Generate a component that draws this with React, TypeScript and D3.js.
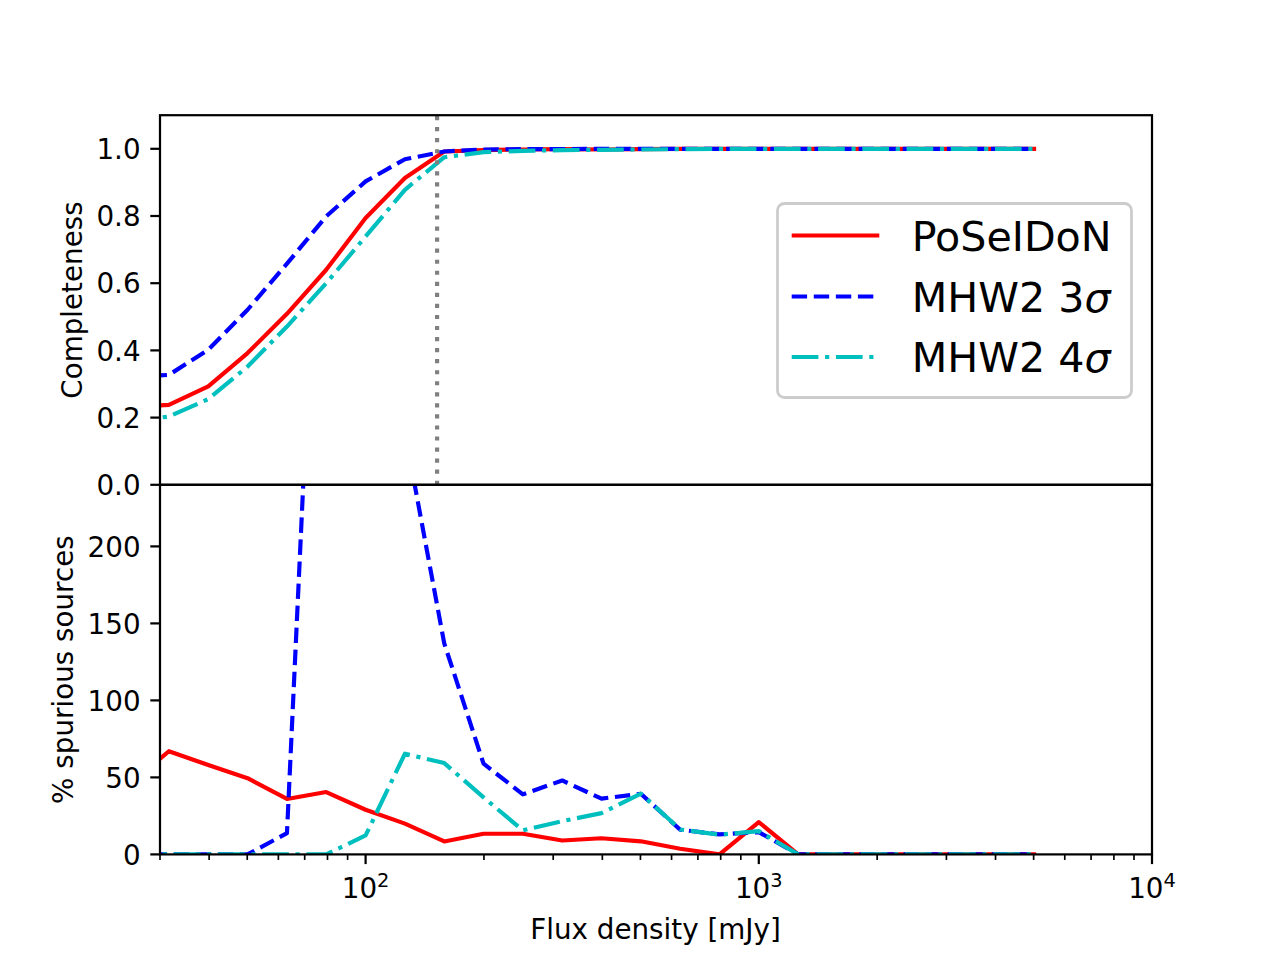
import React from "react";
import * as d3 from "d3";

// ---------- data ----------
const flux = [25.1, 31.6, 39.8, 50.1, 63.1, 79.4, 100, 125.9, 158.5, 199.5, 251.2, 316.2, 398.1, 501.2, 631.0, 794.3, 1000, 1258.9, 1584.9, 1995.3, 2511.9, 3162.3, 3981.1, 5011.9];

const complPoseidon = [0.23, 0.238, 0.293, 0.392, 0.509, 0.64, 0.794, 0.913, 0.992, 0.996, 0.998, 0.999, 0.998, 0.999, 1.0, 1.0, 1.0, 1.0, 1.0, 1.0, 1.0, 1.0, 1.0, 1.0];
const complMHW3 = [0.32, 0.327, 0.402, 0.521, 0.658, 0.799, 0.903, 0.969, 0.992, 0.998, 0.999, 0.999, 1.0, 1.0, 1.0, 1.0, 1.0, 1.0, 1.0, 1.0, 1.0, 1.0, 1.0, 1.0];
const complMHW4 = [0.19, 0.203, 0.255, 0.352, 0.471, 0.6, 0.739, 0.878, 0.975, 0.99, 0.994, 0.996, 0.997, 0.998, 0.999, 1.0, 1.0, 1.0, 1.0, 1.0, 1.0, 1.0, 1.0, 1.0];

const spurPoseidon = [45, 67, 58, 49.5, 36, 40.5, 29, 20, 8.4, 13.4, 13.4, 9, 10.5, 8.5, 3.7, 0, 21, 0, 0, 0, 0, 0, 0, 0];
const spurMHW3 = [0, 0, 0, 0, 13.8, 560, 450, 274, 137, 58.9, 39, 48, 36.2, 39.4, 16, 13, 14.5, 0, 0, 0, 0, 0, 0, 0];
const spurMHW4 = [0, 0, 0, 0, 0, 0, 12.3, 65.4, 59.3, 37, 15.6, 21.6, 26.8, 39.4, 16.2, 12.8, 15.1, 0, 0, 0, 0, 0, 0, 0];

const cutFlux = 152;

const topTicks = [0, 0.2, 0.4, 0.6, 0.8, 1.0];
const botTicks = [0, 50, 100, 150, 200];
const xMajor = [100, 1000, 10000];
const xMajorExp = ["2", "3", "4"];
const xMinor = [30, 40, 50, 60, 70, 80, 90, 200, 300, 400, 500, 600, 700, 800, 900, 2000, 3000, 4000, 5000, 6000, 7000, 8000, 9000];

const seriesNames = ["PoSeIDoN", "MHW2 3", "MHW2 4"];
const seriesColors = ["#ff0000", "#0000ff", "#00bfbf"];

// ---------- layout ----------
const W = 1280, H = 960;
const L = 160, R = 1152, T = 115.2, M = 484.8, B = 854.4;
const FS = 27.78;
const LW = 4.17;
const dashes = [null, "15.4,6.67", "26.7,6.67,4.17,6.67"];

export default function App() {
  const x = d3.scaleLog().domain([30, 10000]).range([L, R]);
  const yTop = d3.scaleLinear().domain([0, 1.1]).range([M, T]);
  const yBot = d3.scaleLinear().domain([0, 240]).range([B, M]);

  const topSeries = [complPoseidon, complMHW3, complMHW4];
  const botSeries = [spurPoseidon, spurMHW3, spurMHW4];

  const lineTop = d3.line<number>().x((_, i) => x(flux[i])).y((d) => yTop(d));
  const lineBot = d3.line<number>().x((_, i) => x(flux[i])).y((d) => yBot(d));

  const font = "DejaVu Sans, sans-serif";

  const legRows = [250.5, 311.5, 372];

  return (
    <svg width={W} height={H} style={{ display: "block", position: "absolute", left: 0, top: 0 }} fontFamily={font}>
      <defs>
        <clipPath id="clipTop"><rect x={L} y={T} width={R - L} height={M - T} /></clipPath>
        <clipPath id="clipBot"><rect x={L} y={M} width={R - L} height={B - M} /></clipPath>
      </defs>
      <rect x={0} y={0} width={W} height={H} fill="#ffffff" />

      {/* top panel lines */}
      <g clipPath="url(#clipTop)">
        {topSeries.map((s, i) => (
          <path key={i} d={lineTop(s) || ""} fill="none" stroke={seriesColors[i]} strokeWidth={LW}
            strokeDasharray={dashes[i] || undefined} strokeLinejoin="round" strokeLinecap={i === 0 ? "square" : "butt"} />
        ))}
        <line x1={x(cutFlux)} x2={x(cutFlux)} y1={yTop(0)} y2={yTop(1.1)} stroke="#808080" strokeWidth={LW}
          strokeDasharray="4.17,6.88" />
      </g>

      {/* bottom panel lines */}
      <g clipPath="url(#clipBot)">
        {botSeries.map((s, i) => (
          <path key={i} d={lineBot(s) || ""} fill="none" stroke={seriesColors[i]} strokeWidth={LW}
            strokeDasharray={dashes[i] || undefined} strokeLinejoin="round" strokeLinecap={i === 0 ? "square" : "butt"} />
        ))}
      </g>

      {/* spines */}
      <rect x={L} y={T} width={R - L} height={M - T} fill="none" stroke="#000" strokeWidth={2.22} />
      <rect x={L} y={M} width={R - L} height={B - M} fill="none" stroke="#000" strokeWidth={2.22} />

      {/* top y ticks */}
      {topTicks.map((t) => (
        <g key={"tt" + t}>
          <line x1={L - 9.7} x2={L} y1={yTop(t)} y2={yTop(t)} stroke="#000" strokeWidth={2.22} />
          <text x={L - 19.4} y={yTop(t) + 10.1} fontSize={FS} textAnchor="end" fill="#000">{t.toFixed(1)}</text>
        </g>
      ))}
      {/* bottom y ticks */}
      {botTicks.map((t) => (
        <g key={"bt" + t}>
          <line x1={L - 9.7} x2={L} y1={yBot(t)} y2={yBot(t)} stroke="#000" strokeWidth={2.22} />
          <text x={L - 19.4} y={yBot(t) + 10.1} fontSize={FS} textAnchor="end" fill="#000">{String(t)}</text>
        </g>
      ))}

      {/* x ticks bottom */}
      {xMinor.map((v) => (
        <line key={"mn" + v} x1={x(v)} x2={x(v)} y1={B} y2={B + 5.56} stroke="#000" strokeWidth={1.67} />
      ))}
      {xMajor.map((v, i) => (
        <g key={"mj" + v}>
          <line x1={x(v)} x2={x(v)} y1={B} y2={B + 9.7} stroke="#000" strokeWidth={2.22} />
          <text x={x(v)} y={897.5} fontSize={FS} textAnchor="middle" fill="#000">
            10<tspan fontSize={19.4} dy={-11}>{xMajorExp[i]}</tspan>
          </text>
        </g>
      ))}

      {/* axis labels */}
      <text x={655.5} y={939} fontSize={FS} textAnchor="middle" fill="#000">Flux density [mJy]</text>
      <text transform={`translate(81.5,${(T + M) / 2}) rotate(-90)`} fontSize={FS} textAnchor="middle" fill="#000">Completeness</text>
      <text transform={`translate(73,${(M + B) / 2}) rotate(-90)`} fontSize={FS} textAnchor="middle" fill="#000">% spurious sources</text>

      {/* legend */}
      <rect x={777.5} y={203.5} width={354} height={194} rx={7} ry={7} fill="#ffffff" fillOpacity={0.8}
        stroke="#cccccc" strokeWidth={2.78} />
      {seriesNames.map((n, i) => (
        <g key={"lg" + i}>
          <line x1={791.7} x2={879.3} y1={legRows[i] - 15} y2={legRows[i] - 15} stroke={seriesColors[i]} strokeWidth={LW}
            strokeDasharray={dashes[i] || undefined} />
          <text x={911.7} y={legRows[i]} fontSize={41.2} fill="#000">
            {n}
            {i > 0 ? <tspan fontStyle="italic">σ</tspan> : null}
          </text>
        </g>
      ))}
    </svg>
  );
}
